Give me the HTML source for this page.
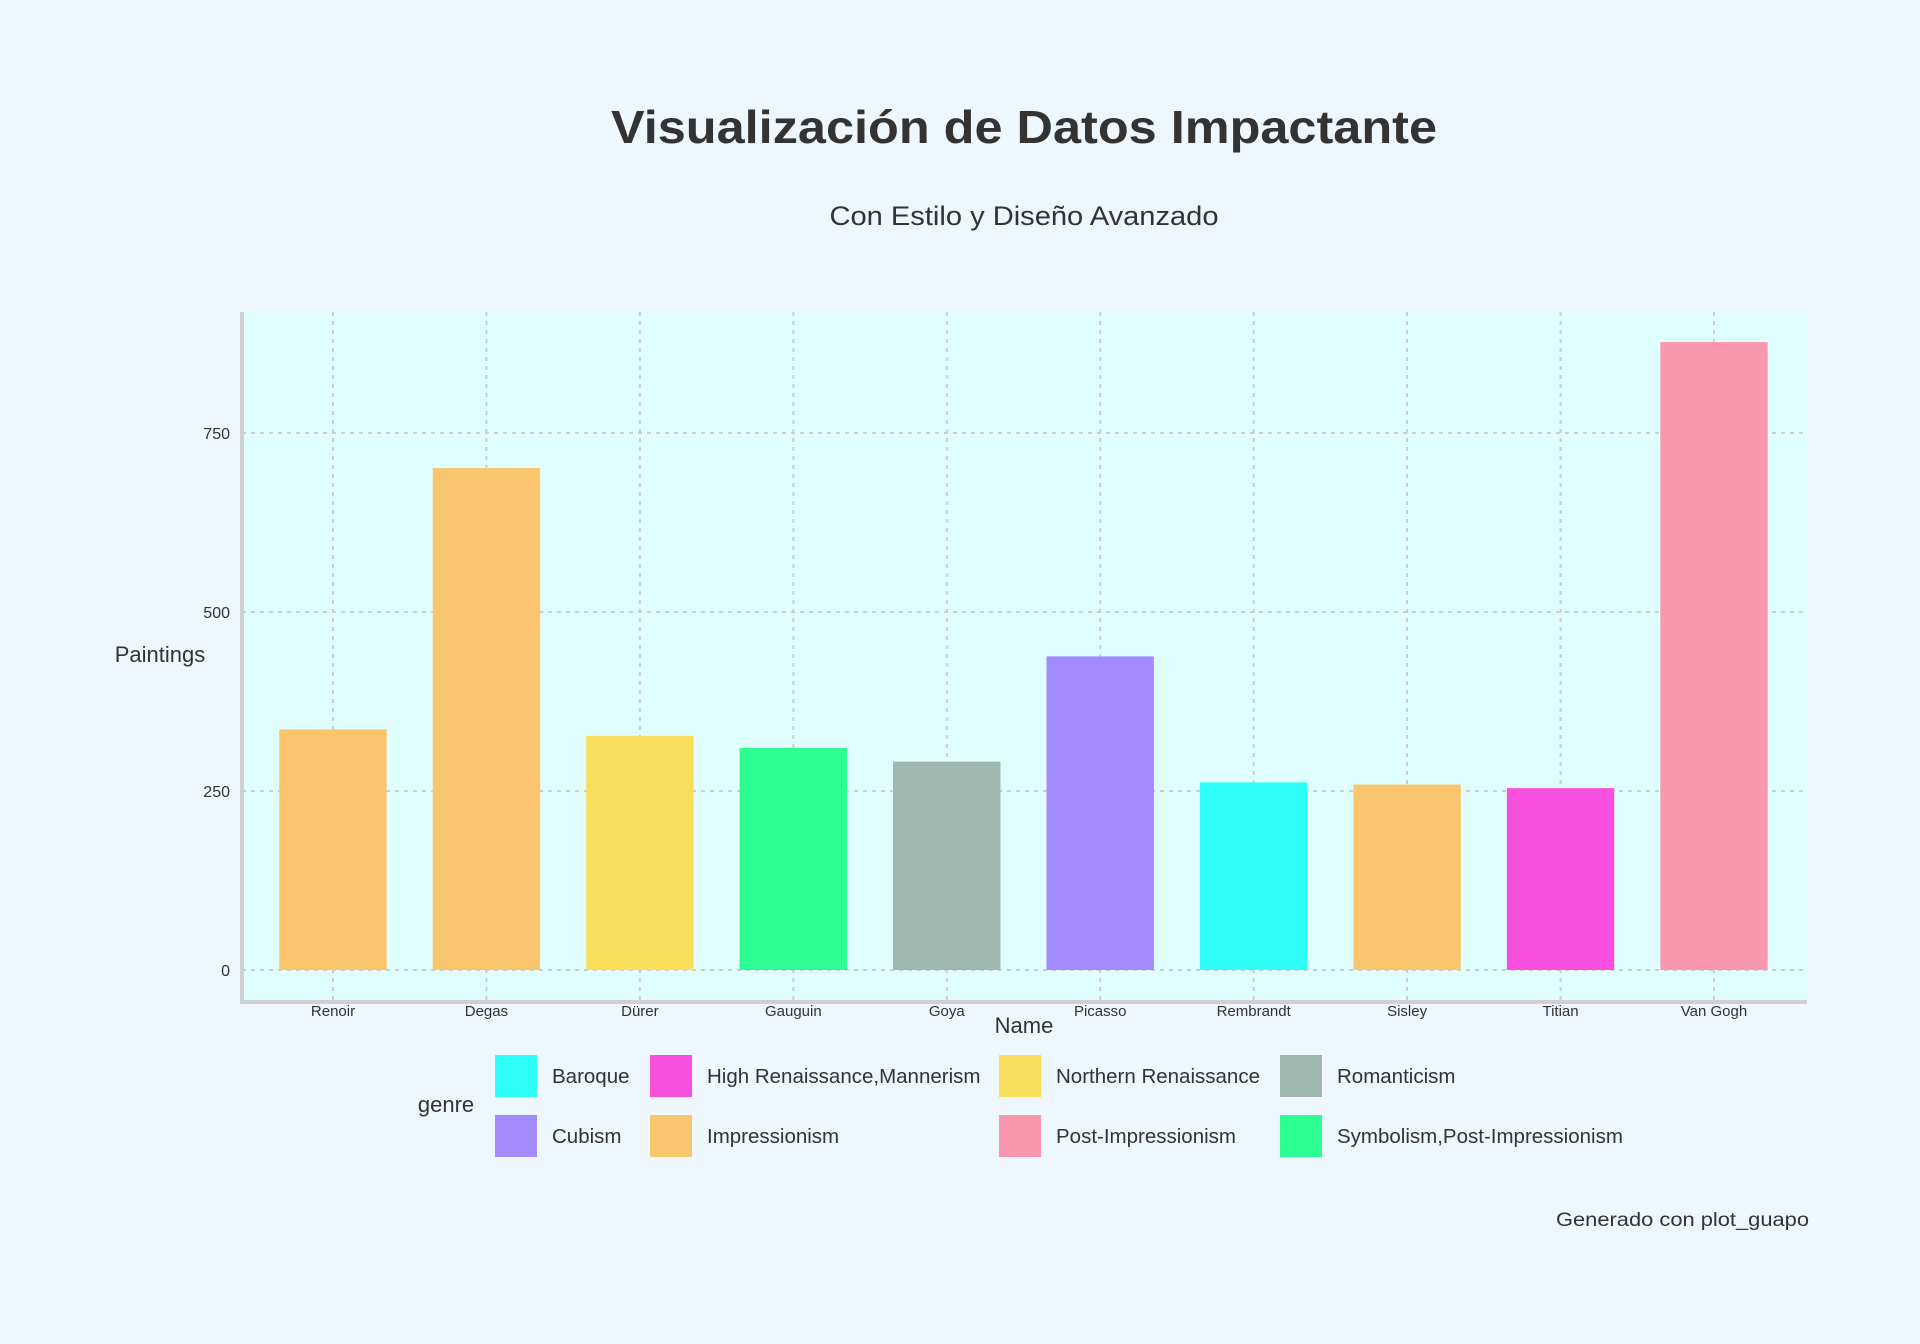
<!DOCTYPE html>
<html><head><meta charset="utf-8">
<style>
html,body{margin:0;padding:0;background:#eef6fe;}
svg{display:block;font-family:"Liberation Sans",sans-serif;}
</style></head>
<body>
<svg id="chart" width="1920" height="1344" viewBox="0 0 1920 1344">
<rect x="0" y="0" width="1920" height="1344" fill="#eef6fe"/>
<text x="1024" y="143" text-anchor="middle" font-size="46" font-weight="bold" fill="#333" textLength="826" lengthAdjust="spacingAndGlyphs">Visualización de Datos Impactante</text>
<text x="1024" y="225" text-anchor="middle" font-size="27" fill="#333" textLength="389" lengthAdjust="spacingAndGlyphs">Con Estilo y Diseño Avanzado</text>
<rect x="242" y="312" width="1565" height="690" fill="#e0fefe"/>
<g id="grid"></g>
<g id="bars"></g>
<g id="axes"></g>
<text x="160" y="662" text-anchor="middle" font-size="22" fill="#333">Paintings</text>
<text x="1024" y="1033" text-anchor="middle" font-size="22" fill="#333">Name</text>
<text x="446" y="1112" text-anchor="middle" font-size="22" fill="#333">genre</text>
<g id="legend"></g>
<text x="1809" y="1226" text-anchor="end" font-size="19" fill="#333" textLength="253" lengthAdjust="spacingAndGlyphs">Generado con plot_guapo</text>
</svg>
<script>
const categories = ["Renoir","Degas","Dürer","Gauguin","Goya","Picasso","Rembrandt","Sisley","Titian","Van Gogh"];
const values = [336, 701, 327, 310, 291, 438, 262, 259, 254, 877];
const genres = ["Impressionism","Impressionism","Northern Renaissance","Symbolism,Post-Impressionism","Romanticism","Cubism","Baroque","Impressionism","High Renaissance,Mannerism","Post-Impressionism"];
const yTicks = [0, 250, 500, 750];
const legendOrder = ["Baroque","High Renaissance,Mannerism","Northern Renaissance","Romanticism","Cubism","Impressionism","Post-Impressionism","Symbolism,Post-Impressionism"];
const genreColors = {"Baroque":"#2dfef8","High Renaissance,Mannerism":"#f84fde","Northern Renaissance":"#f9de5c","Romanticism":"#9fb8af","Cubism":"#a38bff","Impressionism":"#f9c56e","Post-Impressionism":"#f997ae","Symbolism,Post-Impressionism":"#2dfd92"};

const NS = "http://www.w3.org/2000/svg";
const plotL = 242, plotR = 1807, plotT = 312, plotB = 1002;
function yScale(v){ return 970 - v * (970 - 433) / 750; }
const step = (1714 - 333) / 9;
function xScale(i){ return 333 + i * step; }
const barW = step * 0.7;
function mk(tag, attrs, parent){ const e = document.createElementNS(NS, tag); for (const k in attrs) e.setAttribute(k, attrs[k]); parent.appendChild(e); return e; }

const grid = document.getElementById('grid');
yTicks.forEach(t => {
  const y = yScale(t);
  const l = mk('line', {x1: plotL, x2: plotR, y1: y, y2: y, stroke: '#cccccc', 'stroke-width': 2, 'stroke-dasharray': '4,5'}, grid);
  
  
  const tx = mk('text', {x: 230, y: y + 6, 'text-anchor': 'end', 'font-size': 16, fill: '#333'}, grid);
  tx.textContent = t;
  
  
});
categories.forEach((c, i) => {
  const x = xScale(i);
  const l = mk('line', {x1: x, x2: x, y1: plotT, y2: plotB, stroke: '#cccccc', 'stroke-width': 2, 'stroke-dasharray': '4,5'}, grid);
  
  
  const tx = mk('text', {x: x, y: 1016, 'text-anchor': 'middle', 'font-size': 15, fill: '#333'}, grid);
  tx.textContent = c;
  
  
});
const bars = document.getElementById('bars');
values.forEach((v, i) => {
  const y = yScale(v);
  const r = mk('rect', {x: xScale(i) - barW / 2, y: y, width: barW, height: yScale(0) - y, fill: genreColors[genres[i]]}, bars);
  
  
});
const axes = document.getElementById('axes');
const ax1 = mk('line', {x1: plotL, x2: plotL, y1: plotT, y2: plotB + 1.5, stroke: '#d0d0d0', 'stroke-width': 4}, axes);


const ax2 = mk('line', {x1: plotL - 2, x2: plotR, y1: plotB, y2: plotB, stroke: '#d0d0d0', 'stroke-width': 4}, axes);



const legend = document.getElementById('legend');
const colX = [495, 650, 999, 1280];
const rowY = [1055, 1115];
legendOrder.forEach((g, k) => {
  const col = k % 4, row = Math.floor(k / 4);
  const grp = mk('g', {}, legend);
  
  
  mk('rect', {x: colX[col], y: rowY[row], width: 42, height: 42, fill: genreColors[g]}, grp);
  const t = mk('text', {x: colX[col] + 57, y: rowY[row] + 28, 'font-size': 20.5, fill: '#333'}, grp);
  t.textContent = g;
});
</script>
</body></html>
